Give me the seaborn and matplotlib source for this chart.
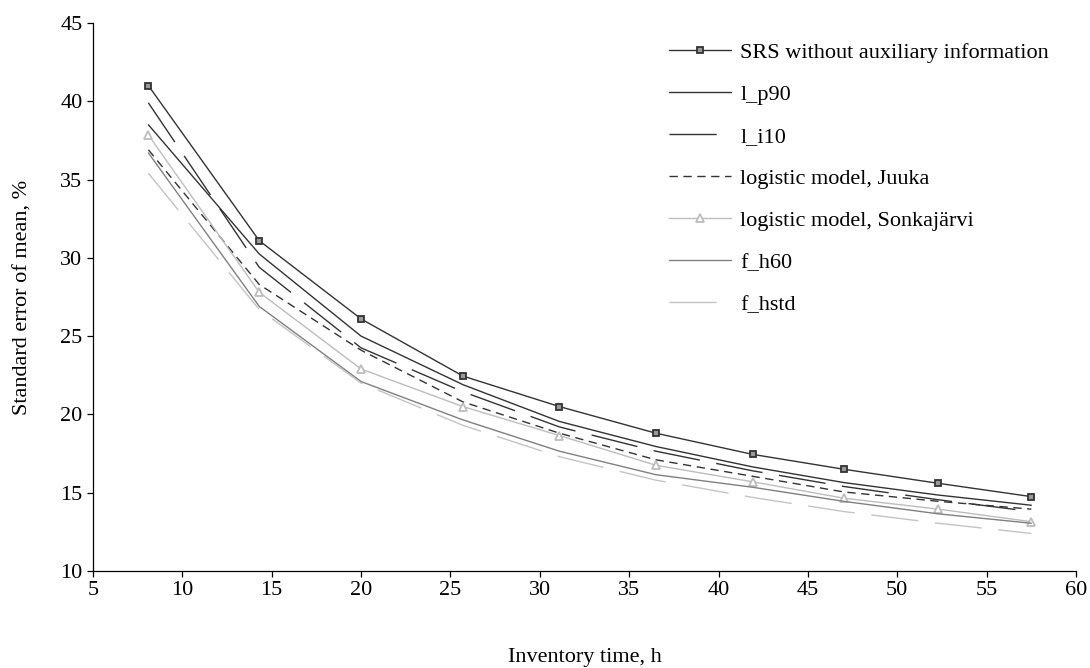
import matplotlib
matplotlib.use("Agg")
import matplotlib.pyplot as plt
import seaborn as sns
import pandas as pd

# inventory time (h) and standard error of mean (%) per method
inventory_time = [8.1, 14.3, 20.0, 25.7, 31.1, 36.5, 41.9, 47.0, 52.3, 57.5]
srs = [41.0, 31.1, 26.1, 22.45, 20.5, 18.8, 17.45, 16.5, 15.6, 14.75]
l_p90 = [38.5, 30.25, 25.0, 21.9, 19.55, 17.95, 16.65, 15.65, 14.85, 14.2]
l_i10 = [39.9, 29.4, 24.25, 21.45, 19.2, 17.65, 16.4, 15.4, 14.55, 13.8]
juuka = [36.9, 28.3, 24.1, 20.8, 18.8, 17.1, 16.05, 15.05, 14.45, 13.95]
sonkajarvi = [37.85, 27.8, 22.9, 20.5, 18.65, 16.75, 15.7, 14.65, 13.95, 13.15]
f_h60 = [36.7, 26.9, 22.1, 19.65, 17.65, 16.15, 15.35, 14.45, 13.65, 13.05]
f_hstd = [35.4, 26.7, 22.0, 19.3, 17.3, 15.8, 14.7, 13.8, 13.05, 12.4]

labels = ["SRS without auxiliary information", "l_p90", "l_i10",
          "logistic model, Juuka", "logistic model, Sonkajärvi", "f_h60", "f_hstd"]
series = [srs, l_p90, l_i10, juuka, sonkajarvi, f_h60, f_hstd]

styles = {
  "SRS without auxiliary information": dict(color="#333333", ls="-", marker="s", ms=4.8,
                                            mfc="#999999", mec="#333333", mew=1.3),
  "l_p90": dict(color="#333333", ls="-"),
  "l_i10": dict(color="#333333", ls=(0, (34, 12))),
  "logistic model, Juuka": dict(color="#333333", ls=(0, (6, 4))),
  "logistic model, Sonkajärvi": dict(color="#bdbdbd", ls="-", marker="^", ms=6,
                                     mfc="white", mec="#bdbdbd", mew=1.3),
  "f_h60": dict(color="#808080", ls="-"),
  "f_hstd": dict(color="#c4c4c4", ls=(0, (34, 12))),
}

df = pd.DataFrame({
  "time": inventory_time * len(series),
  "se": [v for s in series for v in s],
  "method": [lab for lab in labels for _ in inventory_time],
})

sns.set_style("ticks")
plt.rcParams["font.family"] = ["Liberation Serif", "DejaVu Serif"]
plt.rcParams["text.color"] = "black"
plt.rcParams["axes.labelcolor"] = "black"
FS = 16

fig = plt.figure(figsize=(10.9, 6.68), dpi=100)
ax = fig.add_axes([0.0853, 0.1452, 0.9019, 0.8204])

for lab in labels:
  sub = df[df["method"] == lab]
  sns.lineplot(data=sub, x="time", y="se", ax=ax, label=lab, lw=1.0, **styles[lab])

ax.set_xlim(5, 60)
ax.set_ylim(10, 45)
ax.set_xticks(range(5, 61, 5))
ax.set_yticks(range(10, 46, 5))
ax.tick_params(axis="both", direction="out", length=4, width=0.9, labelsize=FS, colors="black")
for side in ["top", "right"]:
  ax.spines[side].set_visible(False)
for side in ["left", "bottom"]:
  ax.spines[side].set_color("black")
  ax.spines[side].set_linewidth(0.9)

ax.set_xlabel("Inventory time, h", fontsize=FS, labelpad=34)
ax.set_ylabel("Standard error of mean, %", fontsize=FS, labelpad=20)

ax.legend(loc="upper left", bbox_to_anchor=(0.586, 0.964), frameon=False,
          fontsize=FS, handlelength=2.8, handletextpad=0.4, labelspacing=0.96,
          borderpad=0, borderaxespad=0, numpoints=1)

fig.savefig("out.png", dpi=100)
